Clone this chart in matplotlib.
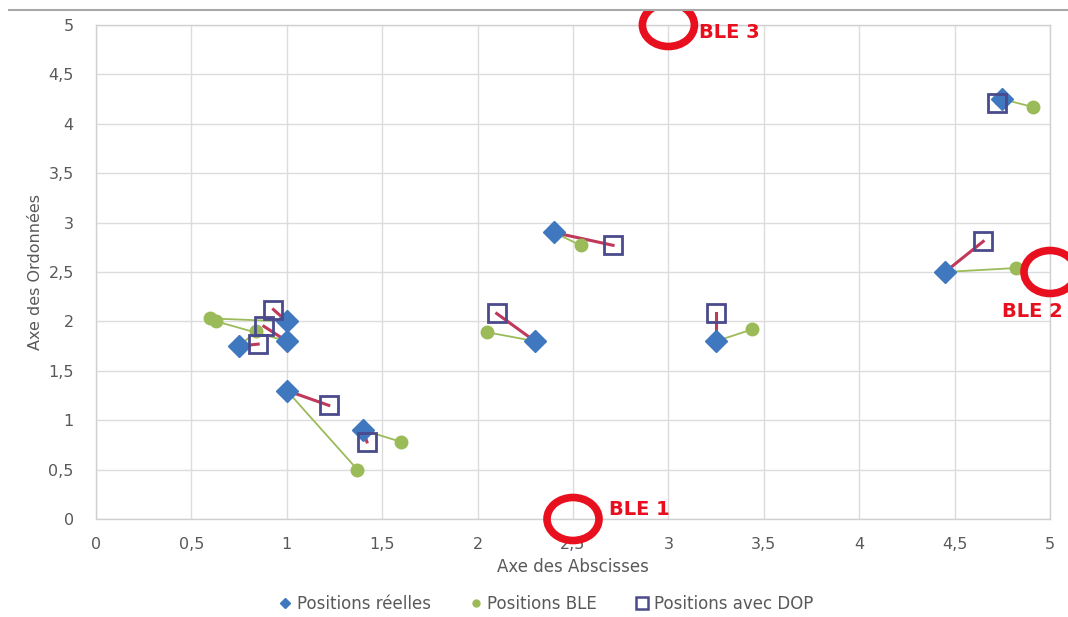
import matplotlib
matplotlib.use("Agg")
import matplotlib.pyplot as plt
from matplotlib.patches import Ellipse, Rectangle
from matplotlib.lines import Line2D
from matplotlib.ticker import FuncFormatter, MultipleLocator

# ---- data ----
real_x = [0.75, 1.0, 1.0, 1.0, 1.4, 2.3, 2.4, 3.25, 4.45, 4.75]
real_y = [1.75, 2.0, 1.8, 1.3, 0.9, 1.8, 2.9, 1.8, 2.5, 4.25]
ble_x = [0.84, 0.6, 0.63, 1.37, 1.6, 2.05, 2.54, 3.44, 4.82, 4.91]
ble_y = [1.90, 2.03, 2.0, 0.5, 0.78, 1.89, 2.77, 1.92, 2.54, 4.17]
dop_x = [0.85, 0.93, 0.88, 1.22, 1.42, 2.1, 2.71, 3.25, 4.65, 4.72]
dop_y = [1.77, 2.12, 1.95, 1.15, 0.78, 2.08, 2.77, 2.09, 2.81, 4.21]
beacon_x = [2.5, 5.0, 3.0]
beacon_y = [0.0, 2.5, 5.0]
beacon_names = ["BLE 1", "BLE 2", "BLE 3"]
series_names = ["Positions réelles", "Positions BLE", "Positions avec DOP"]

BLUE = "#3f78be"
GREEN = "#9bbb59"
NAVY = "#4a4a8c"
LINE_RED = "#c0395a"
RED = "#e8101e"
GREY = "#595959"

fig = plt.figure(figsize=(10.68, 6.17), dpi=100)
ax = fig.add_axes([96/1068, 1-519/617, (1050-96)/1068, (519-25)/617])

ax.set_xlim(0, 5)
ax.set_ylim(0, 5)
ax.xaxis.set_major_locator(MultipleLocator(0.5))
ax.yaxis.set_major_locator(MultipleLocator(0.5))
fmt = FuncFormatter(lambda v, p: ("%g" % v).replace(".", ","))
ax.xaxis.set_major_formatter(fmt)
ax.yaxis.set_major_formatter(fmt)
ax.grid(True, color="#dcdcdc", lw=1.0)
ax.set_axisbelow(True)
for s in ax.spines.values():
    s.set_color("#d0d0d0")
    s.set_linewidth(1.0)
ax.tick_params(length=0, labelsize=11.5, labelcolor=GREY)
ax.tick_params(axis="x", pad=13)
ax.tick_params(axis="y", pad=16)
ax.set_xlabel("Axe des Abscisses", fontsize=12, color=GREY, labelpad=4)
ax.set_ylabel("Axe des Ordonnées", fontsize=11.5, color=GREY, labelpad=4)

# connecting lines
for rx, ry, bx, by in zip(real_x, real_y, ble_x, ble_y):
    ax.plot([rx, bx], [ry, by], color=GREEN, lw=1.3, zorder=2)
for rx, ry, dx, dy in zip(real_x, real_y, dop_x, dop_y):
    ax.plot([rx, dx], [ry, dy], color=LINE_RED, lw=2.2, zorder=2)

ax.plot(real_x, real_y, ls="none", marker="D", ms=11, color=BLUE,
        mec=BLUE, zorder=4)
ax.plot(ble_x, ble_y, ls="none", marker="o", ms=9, color=GREEN,
        mec=GREEN, zorder=3)
ax.plot(dop_x, dop_y, ls="none", marker="s", ms=13, mfc="none",
        mec=NAVY, mew=2, zorder=5)

# beacons
for bx, by, name in zip(beacon_x, beacon_y, beacon_names):
    e = Ellipse((bx, by), width=52/190.8, height=43/98.8, fill=False,
                ec=RED, lw=5.5, clip_on=False, zorder=6)
    ax.add_patch(e)
ax.text(beacon_x[0] + 0.19, beacon_y[0] + 0.1, beacon_names[0], color=RED,
        fontsize=14, fontweight="bold", ha="left", va="center", clip_on=False)
ax.text(beacon_x[1] - 0.09, beacon_y[1] - 0.4, beacon_names[1], color=RED,
        fontsize=14, fontweight="bold", ha="center", va="center", clip_on=False)
ax.text(beacon_x[2] + 0.16, beacon_y[2] - 0.08, beacon_names[2], color=RED,
        fontsize=14, fontweight="bold", ha="left", va="center", clip_on=False)

# top border line (cropped screenshot look)
fig.patches.append(Rectangle((0, 1-10/617), 1, 10/617, transform=fig.transFigure,
                             fc="white", ec="none", zorder=10))
fig.lines.append(Line2D([0.008, 1], [1-10/617, 1-10/617], transform=fig.transFigure,
                        color="#a8a8a8", lw=1.5, zorder=11))

handles = [
    Line2D([], [], ls="none", marker="D", ms=5, color=BLUE),
    Line2D([], [], ls="none", marker="o", ms=5, color=GREEN),
    Line2D([], [], ls="none", marker="s", ms=9, mfc="none", mec=NAVY, mew=1.8),
]
fig.legend(handles, series_names, loc="center", bbox_to_anchor=(545/1068, 1-604/617),
           ncol=3, frameon=False, fontsize=12, labelcolor=GREY, handletextpad=0.2,
           columnspacing=2.2, handlelength=1.0)

fig.savefig("out.png", dpi=100, facecolor="white")
